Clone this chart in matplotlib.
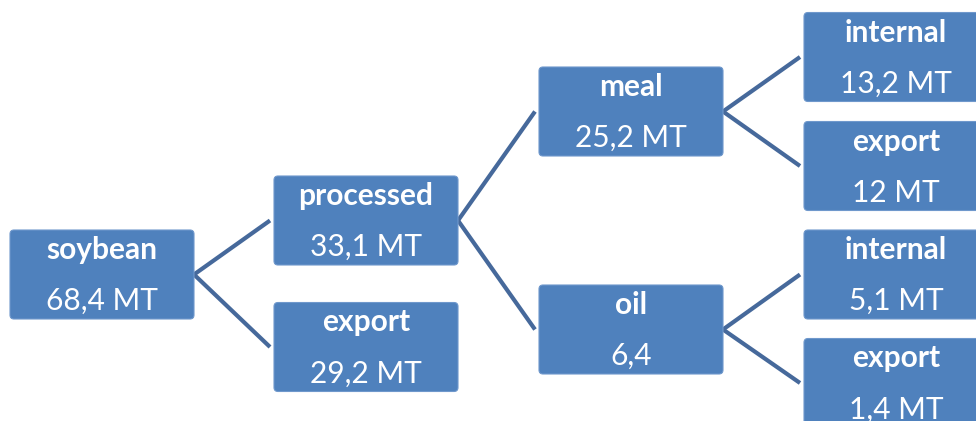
import matplotlib.pyplot as plt
from matplotlib.patches import FancyBboxPatch

# Dados da árvore
nomes = ['soybean', 'processed', 'export', 'meal', 'oil',
         'internal', 'export', 'internal', 'export']
valores = ['68,4 MT', '33,1 MT', '29,2 MT', '25,2 MT', '6,4',
           '13,2 MT', '12 MT', '5,1 MT', '1,4 MT']
pais = [None, 0, 0, 1, 1, 3, 3, 4, 4]
niveis = [0, 1, 1, 2, 2, 3, 3, 3, 3]

# Layout (pixels)
x_nivel = [10, 274, 539, 804]
y_centro = [274.5, 220.5, 347, 111.5, 329.5, 57, 166, 274.5, 383]
largura = 184
altura = 89

cor_caixa = '#4F81BD'
cor_linha = '#46699B'

fig = plt.figure(figsize=(9.76, 4.21), dpi=100)
ax = fig.add_axes([0, 0, 1, 1])
ax.set_xlim(0, 976)
ax.set_ylim(421, 0)
ax.axis('off')

# Ligações
for i, p in enumerate(pais):
    if p is None:
        continue
    x0 = x_nivel[niveis[p]] + largura
    x1 = x_nivel[niveis[i]] - 4
    ax.plot([x0, x1], [y_centro[p], y_centro[i]], color=cor_linha, lw=3.0,
            solid_capstyle='butt', zorder=1)

# Caixas
for i in range(len(nomes)):
    x = x_nivel[niveis[i]]
    y = y_centro[i] - altura / 2
    caixa = FancyBboxPatch((x + 4, y + 4), largura - 8, altura - 8,
                           boxstyle='round,pad=4', fc=cor_caixa, ec='#6F98CC',
                           lw=0.8, zorder=2)
    ax.add_patch(caixa)
    cx = x + largura / 2
    ax.text(cx, y + 20, nomes[i], color='white', fontsize=21.5, fontweight='bold',
            family='Lato', ha='center', va='center', zorder=3)
    ax.text(cx, y + 71, valores[i], color='white', fontsize=21.5,
            family='Lato', ha='center', va='center', zorder=3)

fig.savefig('out.png', dpi=100)
